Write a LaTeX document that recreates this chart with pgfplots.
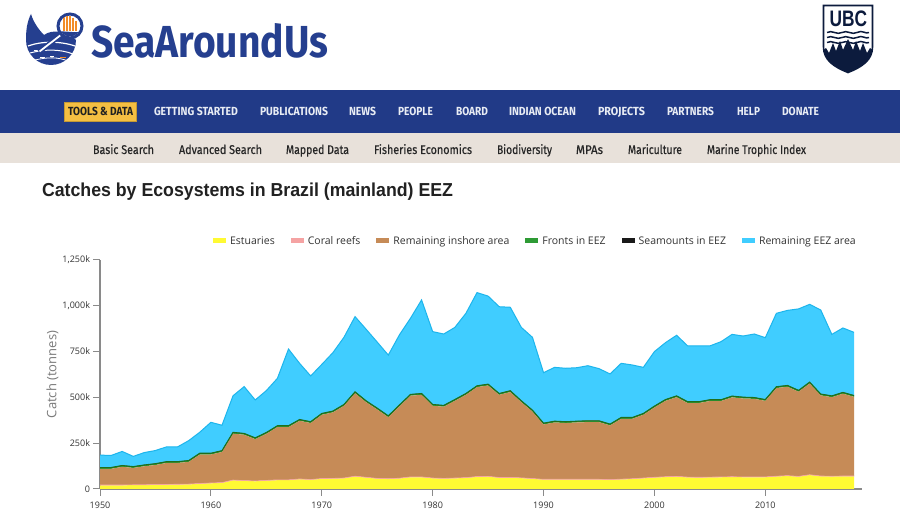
\documentclass[border=0pt]{standalone}
\usepackage{fontspec}
\usepackage{graphicx}
\usepackage{pgfplots}
\usepackage{pgfplotstable}
\pgfplotsset{compat=1.18}
\setmainfont{Open Sans}
\newfontfamily\fira{Fira Sans}
\newfontfamily\firasub{Fira Sans}[FakeBold=0.5]
\newfontfamily\lib{Liberation Sans}

\definecolor{sablue}{HTML}{253F8F}
\definecolor{saorange}{HTML}{F28C28}
\definecolor{ubcnavy}{HTML}{0C1B3D}
\definecolor{navblue}{HTML}{213A87}
\definecolor{navyellow}{HTML}{F5BF42}
\definecolor{navtext}{HTML}{E8ECF4}
\definecolor{subbg}{HTML}{E8E1DA}
\definecolor{subtext}{HTML}{262626}
\definecolor{titletext}{HTML}{212121}
\definecolor{axisgray}{HTML}{8A8A8A}
\definecolor{ticktext}{HTML}{333333}
\definecolor{labelgray}{HTML}{7A7A7A}
\definecolor{legtext}{HTML}{333333}
\definecolor{estyellow}{HTML}{FFFA33}
\definecolor{coralpink}{HTML}{F5A3A3}
\definecolor{inshore}{HTML}{C68B57}
\definecolor{fronts}{HTML}{2E9B35}
\definecolor{frontdark}{HTML}{1E6F1E}
\definecolor{seam}{HTML}{1A1A1A}
\definecolor{eez}{HTML}{40CDFF}
\definecolor{eezline}{HTML}{1DB5EC}

\pgfplotstableread{
year est coral inshore fronts seam eez
1950 20 2 88 7 1 67
1951 20 2 88 7 1 65
1952 20 2 99 7 1 76
1953 21 2 92 7 1 55
1954 21 2 101 7 1 67
1955 22 2 107 7 1 71
1956 23 2 117 7 1 80
1957 24 2 116 7 1 80
1958 25 2 121 7 1 108
1959 28 2 158 7 1 114
1960 31 2 155 7 1 168
1961 33 2 167 7 1 138
1962 47 2 253 7 1 199
1963 44 2 250 7 1 255
1964 42 2 228 7 1 206
1965 45 2 254 7 1 228
1966 48 2 288 7 1 258
1967 48 2 288 7 1 418
1968 53 2 317 7 1 306
1969 50 2 308 7 1 249
1970 55 2 348 7 1 267
1971 56 2 360 7 1 318
1972 58 2 394 7 1 366
1973 68 2 453 7 1 410
1974 62 2 410 7 1 390
1975 56 2 376 7 1 360
1976 54 2 336 7 1 331
1977 57 2 392 7 1 382
1978 64 2 443 7 1 415
1979 64 2 448 7 1 510
1980 58 2 394 7 1 397
1981 56 2 391 7 1 389
1982 58 2 421 7 1 393
1983 60 2 452 7 1 437
1984 66 2 488 7 1 508
1985 67 2 496 7 1 480
1986 61 2 451 7 1 473
1987 61 2 466 7 1 455
1988 59 2 413 7 1 400
1989 55 2 366 7 1 397
1990 51 2 299 7 1 275
1991 51 2 310 7 1 293
1992 51 2 307 7 1 291
1993 51 2 310 7 1 291
1994 51 2 312 7 1 300
1995 51 2 312 7 1 284
1996 49 2 296 7 1 273
1997 52 2 329 7 1 295
1998 54 2 327 7 1 286
1999 58 2 345 7 1 251
2000 62 2 381 7 1 297
2001 65 2 414 7 1 310
2002 67 2 432 7 1 330
2003 63 2 404 7 1 304
2004 62 2 405 7 1 304
2005 63 2 415 7 1 293
2006 64 2 414 7 1 316
2007 65 2 433 7 1 336
2008 64 2 428 7 1 333
2009 64 2 426 7 1 346
2010 64 2 415 7 1 337
2011 68 2 481 7 1 400
2012 71 2 485 7 1 409
2013 67 2 462 7 1 444
2014 76 2 498 7 1 424
2015 69 2 440 7 1 458
2016 68 2 431 7 1 335
2017 69 2 449 7 1 351
2018 69 2 432 7 1 344
}\datatable

% x1, x2, baseline (px from top), cap height, colour, text
\newcommand{\fittext}[6]{\node[anchor=base west, inner sep=0pt, outer sep=0pt, text=#5] at (#1, {514-#3}) {\resizebox{\dimexpr #2pt-#1pt\relax}{#4pt}{\vphantom{H}\smash{#6}}};}
\newcommand{\navitem}[3]{\fittext{#1}{#2}{115.7}{8.4}{navtext}{\fira\bfseries #3}}
\newcommand{\subnavitem}[3]{\fittext{#1}{#2}{154}{9}{subtext}{\firasub #3}}

\begin{document}
\begin{tikzpicture}[x=1pt,y=1pt]
\useasboundingbox (0,0) rectangle (900,514);
\fill[white] (0,0) rectangle (900,514);

\begin{scope}[shift={(0,514)}, yscale=-1]
  % nav bars
  \fill[navblue] (0,90) rectangle (900,133);
  \fill[subbg] (0,133) rectangle (900,163);
  \fill[navyellow, draw=navyellow!80!black, line width=0.5] (64,102) rectangle (136,121);

  % Sea Around Us logo
  \fill[sablue] (26,40) arc[start angle=180, end angle=0, radius=25]
     .. controls (66,31) and (52,29) .. (44,35)
     .. controls (38,29) and (33,21) .. (31,14)
     .. controls (27,22) and (26,30) .. (26,40) -- cycle;
  \draw[white, line width=1.2] (28,46) .. controls (42,41) and (60,41) .. (75,46);
  \draw[white, line width=1] (30,53) .. controls (45,49) and (60,49) .. (73,54);
  \draw[white, line width=0.8] (35,60) .. controls (48,57) and (58,57) .. (68,61);
  \draw[white, line width=0.9] (40,57) -- (45,57) (50,56) -- (54,56) (34,50) -- (38,50);
  \draw[saorange, line width=1.2] (60,57.5) -- (66,57.5);
  \draw[sablue, line width=5] (62,34) -- (39,52);
  \draw[white, line width=1.8] (61.5,34.5) -- (39.5,51.5);
  \draw[sablue, line width=3, fill=white] (70,26) circle[radius=12];
  \begin{scope}
    \clip (70,26) circle[radius=10.5];
    \fill[saorange] (62.5,17) rectangle (64.5,31);
    \fill[saorange] (65.5,15) rectangle (67.5,31);
    \fill[saorange] (68.5,16) rectangle (70.5,31);
    \fill[saorange] (71.5,18) rectangle (73.5,31);
    \fill[saorange] (74.5,21) rectangle (76.5,31);
    \fill[sablue] (55,32) .. controls (65,30) and (75,34) .. (85,31) -- (85,45) -- (55,45) -- cycle;
  \end{scope}

  % UBC shield
  \path[draw=ubcnavy, line width=1.6, fill=white] (823.5,5.5) -- (872.5,5.5) -- (872.5,47)
     .. controls (872.5,60) and (862,67) .. (848,72.5)
     .. controls (834,67) and (823.5,60) .. (823.5,47) -- cycle;
  \begin{scope}
    \clip (823.5,5.5) -- (872.5,5.5) -- (872.5,47)
     .. controls (872.5,60) and (862,67) .. (848,72.5)
     .. controls (834,67) and (823.5,60) .. (823.5,47) -- cycle;
    \fill[ubcnavy] (820,75) -- (820,53) -- (826,48) -- (829,53) -- (833,43) -- (836,51)
      -- (840,41) -- (843,50) -- (848,39) -- (853,50) -- (856,41) -- (860,51)
      -- (863,43) -- (867,53) -- (870,48) -- (876,53) -- (876,75) -- cycle;
  \end{scope}
  \foreach \yy in {32.5,37.5,42.5}{
    \draw[ubcnavy, line width=1.5] (827,\yy) .. controls (832,\yy-3) and (837,\yy+3) .. (842,\yy)
       .. controls (847,\yy-3) and (852,\yy+3) .. (857,\yy)
       .. controls (862,\yy-3) and (866,\yy+2) .. (869,\yy);
  }
\end{scope}

% logo texts
\fittext{91}{328}{57.5}{32}{sablue}{\fira\bfseries SeaAroundUs}
\fittext{829.5}{867}{26.5}{16}{ubcnavy}{\lib\bfseries UBC}

% navigation
\fittext{68}{133}{115.7}{8.4}{titletext}{\fira\bfseries TOOLS \& DATA}
\navitem{154}{238}{GETTING STARTED}
\navitem{260}{328}{PUBLICATIONS}
\navitem{349}{376}{NEWS}
\navitem{398}{433}{PEOPLE}
\navitem{456}{488}{BOARD}
\navitem{509}{576}{INDIAN OCEAN}
\navitem{598}{645}{PROJECTS}
\navitem{667}{714}{PARTNERS}
\navitem{737}{760}{HELP}
\navitem{782}{819}{DONATE}

\subnavitem{93}{154}{Basic Search}
\subnavitem{179}{262}{Advanced Search}
\subnavitem{286}{349}{Mapped Data}
\subnavitem{374}{472}{Fisheries Economics}
\subnavitem{497}{552}{Biodiversity}
\subnavitem{576}{603}{MPAs}
\subnavitem{628}{682}{Mariculture}
\subnavitem{707}{806}{Marine Trophic Index}

% title
\fittext{42}{453}{196.7}{13.4}{titletext}{\lib\bfseries Catches by Ecosystems in Brazil (mainland) EEZ}

\begin{axis}[
  at={(100pt,25pt)}, anchor=south west, scale only axis,
  width=762pt, height=229pt,
  xmin=1950, xmax=2018.72, ymin=0, ymax=1250,
  stack plots=y,
  axis x line*=bottom, axis y line*=left,
  axis line style={draw=axisgray, line width=1.2pt},
  tick style={draw=axisgray, line width=1pt},
  tick align=outside, major tick length=7pt,
  xtick={1950,1960,1970,1980,1990,2000,2010},
  xticklabels={1950,1960,1970,1980,1990,2000,2010},
  ytick={0,250,500,750,1000,1250},
  yticklabels={0,250k,500k,750k,{1,000k},{1,250k}},
  ticklabel style={font=\fontsize{9}{10}\selectfont, text=ticktext},
  xticklabel style={yshift=-2.5pt},
  yticklabel style={xshift=0.5pt},
  /pgf/number format/assume math mode=true,
  ylabel={Catch (tonnes)},
  every axis y label/.style={at={(axis description cs:-0.0623,0.5)}, rotate=90, anchor=center, font=\fontsize{13}{15}\selectfont, text=labelgray},
  legend columns=6,
  legend style={at={(axis description cs:0.9921,1.083)}, anchor=east, draw=none, fill=none, inner sep=0pt,
    font=\fontsize{10.5}{12}\selectfont, text=legtext,
    nodes={inner xsep=0pt, inner ysep=1pt},
    /tikz/every odd column/.append style={column sep=4pt},
    /tikz/every even column/.append style={column sep=16pt}},
  legend image code/.code={\fill[#1] (0pt,-2.5pt) rectangle (13pt,2.5pt);},
]
\addplot[fill=estyellow, draw=none] table[x=year, y=est] {\datatable} \closedcycle;
\addlegendentry{Estuaries}
\addplot[fill=coralpink, draw=none] table[x=year, y=coral] {\datatable} \closedcycle;
\addlegendentry{Coral reefs}
\addplot[fill=inshore, draw=none] table[x=year, y=inshore] {\datatable} \closedcycle;
\addlegendentry{Remaining inshore area}
\addplot[fill=fronts, draw=none] table[x=year, y=fronts] {\datatable} \closedcycle;
\addlegendentry{Fronts in EEZ}
\addplot[fill=seam, draw=none] table[x=year, y=seam] {\datatable} \closedcycle;
\addlegendentry{Seamounts in EEZ}
\addplot[fill=eez, draw=none] table[x=year, y=eez] {\datatable} \closedcycle;
\addlegendentry{Remaining EEZ area}
\end{axis}

\begin{axis}[
  at={(100pt,25pt)}, anchor=south west, scale only axis,
  width=762pt, height=229pt,
  xmin=1950, xmax=2018.72, ymin=0, ymax=1250, hide axis]
\addplot[draw=coralpink, line width=0.6pt] table[x=year, y expr=\thisrow{est}+\thisrow{coral}] {\datatable};
\addplot[draw=frontdark, line width=1.1pt] table[x=year, y expr=\thisrow{est}+\thisrow{coral}+\thisrow{inshore}+\thisrow{fronts}] {\datatable};
\addplot[draw=eezline, line width=1pt] table[x=year, y expr=\thisrow{est}+\thisrow{coral}+\thisrow{inshore}+\thisrow{fronts}+\thisrow{seam}+\thisrow{eez}] {\datatable};
\end{axis}
\end{tikzpicture}
\end{document}
